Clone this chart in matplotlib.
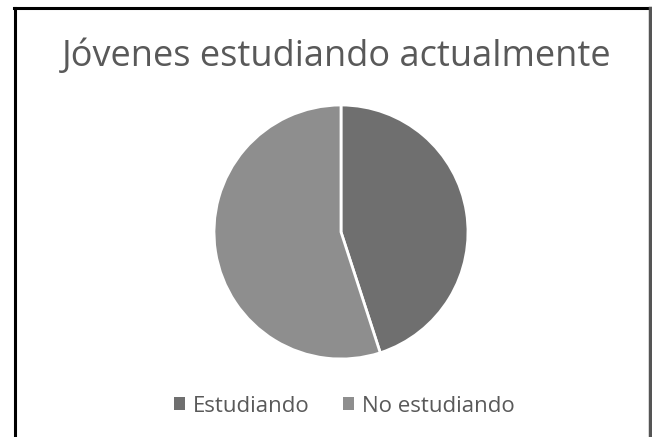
import matplotlib
matplotlib.use("Agg")
import matplotlib.pyplot as plt
from matplotlib.lines import Line2D
from matplotlib.patches import Patch

labels = ["Estudiando", "No estudiando"]
values = [45, 55]
colors = ["#6f6f6f", "#8e8e8e"]
title = "Jóvenes estudiando actualmente"

W, H = 652, 437
fig = plt.figure(figsize=(W / 100, H / 100), dpi=100)
fig.patch.set_facecolor("white")

def fx(px):
    return px / W

def fy(py):
    return 1 - py / H

# frame
fig.add_artist(Line2D([fx(15), fx(15)], [fy(8), 0], color="black", lw=2.2, transform=fig.transFigure))
fig.add_artist(Line2D([fx(14), fx(651)], [fy(8), fy(8)], color="black", lw=2.2, transform=fig.transFigure))
fig.add_artist(Line2D([fx(650), fx(650)], [fy(8), 0], color="#555555", lw=2.5, transform=fig.transFigure))

cx, cy, r = 341, 232, 127
ax = fig.add_axes([fx(cx - r), fy(cy + r), 2 * r / W, 2 * r / H])
ax.pie(values, colors=colors, startangle=90, counterclock=False, radius=1,
       wedgeprops=dict(edgecolor="white", linewidth=2))
ax.set_xlim(-1, 1)
ax.set_ylim(-1, 1)
ax.set_aspect("equal")
ax.axis("off")

fig.text(fx(337), fy(57), title, ha="center", va="center", fontsize=26,
         color="#595959", family="Open Sans")

handles = [Patch(facecolor=c, edgecolor="none") for c in colors]
fig.legend(handles, labels, loc="center", bbox_to_anchor=(fx(344), fy(406)),
           ncol=2, frameon=False, handlelength=0.5, handleheight=0.5,
           handletextpad=0.35, columnspacing=1.5, labelcolor="#595959",
           prop=dict(family="Open Sans", size=16))

fig.savefig("out.png", dpi=100)
